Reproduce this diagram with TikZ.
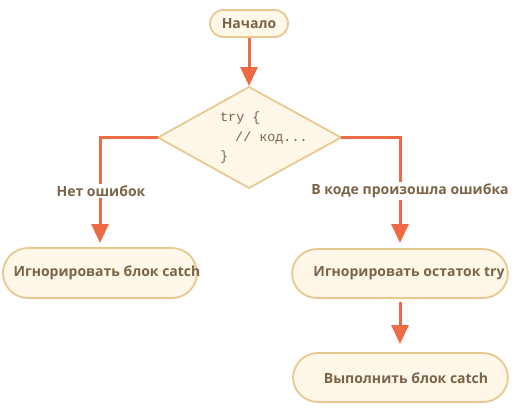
\documentclass[tikz,border=0pt]{standalone}
\usepackage{fontspec}
\setmainfont{Open Sans}
\newfontfamily\codefont{Liberation Mono}
\usetikzlibrary{arrows.meta,shapes.geometric}
\definecolor{boxfill}{HTML}{FFF8E9}
\definecolor{boxline}{HTML}{E8C88E}
\definecolor{arrowc}{HTML}{EE6A45}
\definecolor{textc}{HTML}{7A6347}
\tikzset{
  stadium/.style={draw=boxline, fill=boxfill, line width=1.8pt, rounded corners=#1},
  lbl/.style={text=textc, font=\bfseries\fontsize{14}{16}\selectfont, inner sep=1pt},
  edgelbl/.style={lbl, fill=white, inner sep=2pt},
  flow/.style={draw=arrowc, line width=3pt, -{Triangle[width=17pt,length=19pt]}},
  codetxt/.style={text=textc, font=\codefont\fontsize{13.4}{15}\selectfont, inner sep=0pt, anchor=west},
}
\begin{document}
\begin{tikzpicture}[x=1pt,y=-1pt]
\useasboundingbox (0,0) rectangle (525,410);
% start
\path[stadium=13.5pt] (210,10) rectangle (288,37);
\node[lbl] (start) at (249,23.5) {Начало};
\coordinate (startb) at (249,37.5);
% diamond
\path[draw=boxline, fill=boxfill, line width=1.8pt] (249,87) -- (341,137.5) -- (249,188) -- (158,137.5) -- cycle;
\coordinate (dtop) at (249,86);
\coordinate (dleft) at (158,137.5);
\coordinate (dright) at (341,137.5);
\node[codetxt] (c1) at (220,118) {try \{};
\node[codetxt] (c2) at (227,138) {~// код...};
\node[codetxt] (c3) at (220,157) {\}};
\draw[flow] (startb) -- (dtop);
% left branch
\path[stadium=25pt] (3,248) rectangle (197,298);
\node[lbl] (ign1) at (107,273) {Игнорировать блок catch};
\coordinate (ign1t) at (100,243);
\draw[flow] (dleft) -- (100,137.5) -- (ign1t);
\node[edgelbl] (no) at (101,191) {Нет ошибок};
% right branch
\path[stadium=25pt] (292,249) rectangle (508,298);
\node[lbl] (ign2) at (409,273.5) {Игнорировать остаток try};
\coordinate (ign2t) at (400,243);
\draw[flow] (dright) -- (400,137.5) -- (ign2t);
\node[edgelbl] (err) at (410,191) {В коде произошла ошибка};
% bottom
\path[stadium=25pt] (293,353) rectangle (508,402);
\node[lbl] (run) at (406,378) {Выполнить блок catch};
\coordinate (ign2b) at (400,302);
\coordinate (runt) at (400,344);
\draw[flow] (ign2b) -- (runt);
\end{tikzpicture}
\end{document}
